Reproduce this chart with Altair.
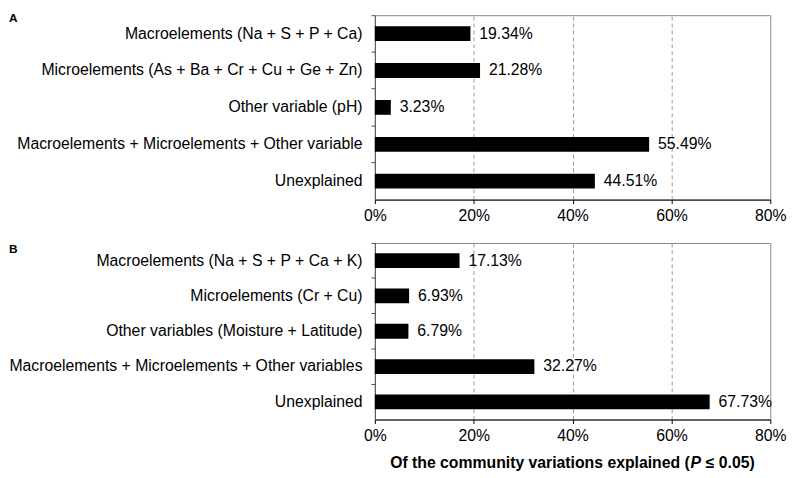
import altair as alt
import pandas as pd

cats_a = [
    "Macroelements (Na + S + P + Ca)",
    "Microelements (As + Ba + Cr + Cu + Ge + Zn)",
    "Other variable (pH)",
    "Macroelements + Microelements + Other variable",
    "Unexplained",
]
vals_a = [19.34, 21.28, 3.23, 55.49, 44.51]

cats_b = [
    "Macroelements (Na + S + P + Ca + K)",
    "Microelements (Cr + Cu)",
    "Other variables (Moisture + Latitude)",
    "Macroelements + Microelements + Other variables",
    "Unexplained",
]
vals_b = [17.13, 6.93, 6.79, 32.27, 67.73]

x_ticks = [0, 20, 40, 60, 80]
# axis title pieces: regular bold / italic "P" / regular bold
title_parts = ["Of the community variations explained (", "P", "≤ 0.05)"]

FONT = "Liberation Sans"
W = 401


def panel(cats, vals, letter, height, letter_y, show_title):
    df = pd.DataFrame({"cat": cats, "val": vals, "lab": [f"{v:.2f}%" for v in vals]})
    y = alt.Y(
        "cat:N",
        sort=cats,
        title=None,
        scale=alt.Scale(paddingInner=0, paddingOuter=0),
        axis=alt.Axis(
            bandPosition=0,
            tickSize=4,
            tickColor="#555",
            domainColor="#555",
            labelFontSize=16,
            labelFont=FONT,
            labelColor="black",
            labelPadding=9,
            labelLimit=500,
            minExtent=371,
            maxExtent=371,
        ),
    )
    xaxis = dict(
        values=x_ticks,
        labelExpr="datum.value + '%'",
        grid=True,
        gridDash=[4, 3],
        gridColor="#999",
        gridOpacity={"condition": {"test": "datum.value == 0 || datum.value == 80", "value": 0}, "value": 1},
        tickSize=4,
        tickColor="black",
        domainColor="black",
        labelFontSize=16,
        labelFont=FONT,
        labelColor="black",
        labelPadding=4,
        labelFlush=False,
    )
    x = alt.X(
        "val:Q",
        scale=alt.Scale(domain=[0, 80], nice=False),
        title=None,
        axis=alt.Axis(**xaxis),
    )
    base = alt.Chart(df)
    bars = base.mark_bar(color="black", size=15).encode(x=x, y=y)
    labels = base.mark_text(align="left", dx=9, fontSize=16, font=FONT, color="black").encode(
        x="val:Q", y=alt.Y("cat:N", sort=cats), text="lab:N"
    )
    letter_mark = (
        alt.Chart(pd.DataFrame({"t": [letter]}))
        .mark_text(align="left", baseline="top", fontSize=12, fontWeight="bold", font=FONT, color="black")
        .encode(text="t:N", x=alt.value(-371), y=alt.value(letter_y))
    )
    layers = [bars, labels, letter_mark]
    if show_title:
        start = (W - 370) / 2
        ty = height + 36
        common = dict(align="left", baseline="top", fontSize=16, fontWeight="bold", font=FONT, color="black")
        t1 = alt.Chart(pd.DataFrame({"t": [title_parts[0]]})).mark_text(**common).encode(
            text="t:N", x=alt.value(start), y=alt.value(ty)
        )
        t2 = alt.Chart(pd.DataFrame({"t": [title_parts[1]]})).mark_text(fontStyle="italic", **common).encode(
            text="t:N", x=alt.value(start + 304.5), y=alt.value(ty)
        )
        t3 = alt.Chart(pd.DataFrame({"t": [title_parts[2]]})).mark_text(**common).encode(
            text="t:N", x=alt.value(start + 320), y=alt.value(ty)
        )
        layers += [t1, t2, t3]
    return alt.layer(*layers).properties(width=W, height=height)


pa = panel(cats_a, vals_a, "A", 187, -2, False)
pb = panel(cats_b, vals_b, "B", 179, 1, True)

chart = (
    alt.vconcat(pa, pb, spacing=18)
    .properties(padding={"left": 0, "top": 0, "right": 5, "bottom": 2})
    .configure_view(stroke="#888", strokeWidth=1)
)

chart.save("out.html", embed_options={"renderer": "svg", "actions": False})
